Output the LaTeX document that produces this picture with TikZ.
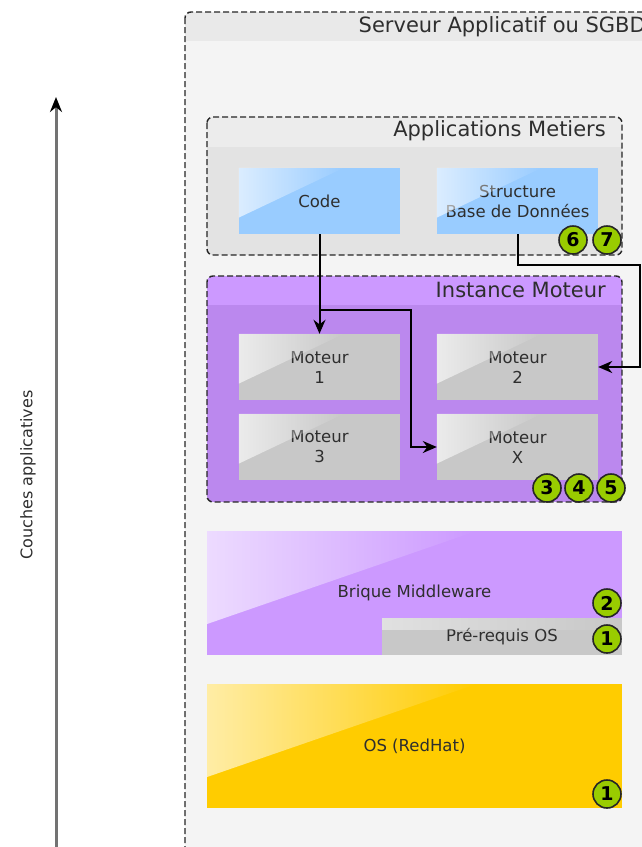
\documentclass[tikz,border=0pt]{standalone}
\usepackage{fontspec}
\setmainfont{DejaVu Sans}
\usetikzlibrary{arrows.meta,calc,fadings}

\definecolor{txtgray}{HTML}{2E2E2E}
\definecolor{srvbody}{HTML}{F4F4F4}
\definecolor{srvhead}{HTML}{E9E9E9}
\definecolor{appbody}{HTML}{E3E3E3}
\definecolor{apphead}{HTML}{ECECEC}
\definecolor{codeblue}{HTML}{99CCFF}
\definecolor{instbody}{HTML}{BB88EE}
\definecolor{insthead}{HTML}{CC99FF}
\definecolor{motgray}{HTML}{C8C8C8}
\definecolor{mwpurple}{HTML}{CC99FF}
\definecolor{osyellow}{HTML}{FFCC00}
\definecolor{badgegreen}{HTML}{99CC00}

\tikzfading[name=glare, left color=transparent!35, right color=transparent!100]

% glossy corner on a brick
\newcommand{\glare}[1]{%
  \fill[white,path fading=glare] (#1.north west) -- ($(#1.north west)!.65!(#1.north east)$)
    -- ($(#1.north west)!.75!(#1.south west)$) -- cycle;}

\tikzset{
  brick/.style={rectangle, inner sep=0pt, text=txtgray, align=center,
    font=\fontsize{16.5}{20}\selectfont},
  badge/.style={circle, fill=badgegreen, draw=black!85, line width=1.6pt,
    minimum size=28pt, inner sep=0pt, font=\bfseries\fontsize{19}{19}\selectfont},
  frame/.style={draw=black!85, line width=1.4pt, dash pattern=on 6pt off 3pt, rounded corners=6pt},
  title/.style={anchor=east, inner sep=0pt, text=txtgray, font=\fontsize{21}{24}\selectfont},
  flow/.style={draw=black, line width=2pt, -{Stealth[length=14pt,width=12pt]}},
}

\begin{document}
\begin{tikzpicture}[x=1pt,y=-1pt]
\useasboundingbox (0,0) rectangle (642,847);
\fill[white] (0,0) rectangle (642,847);

% axe
\coordinate (axbot) at (56,850);
\coordinate (axtop) at (56,97);
\draw[black!55, line width=3pt, -{Stealth[length=15pt,width=12pt,black]}] (axbot) -- (axtop);
\node[rotate=90, text=txtgray, font=\fontsize{16}{19}\selectfont] (axlabel) at (28,475) {Couches applicatives};

% serveur
\begin{scope}
  \clip[rounded corners=6pt] (185,12) rectangle (660,880);
  \fill[srvbody] (185,12) rectangle (660,880);
  \fill[srvhead] (185,12) rectangle (660,41);
\end{scope}
\draw[frame] (185,12) rectangle (660,880);
\node[title] (srvtitle) at (646,27) {Serveur Applicatif ou SGBD};

% applications metiers
\begin{scope}
  \clip[rounded corners=6pt] (207,117) rectangle (622,255);
  \fill[appbody] (207,117) rectangle (622,255);
  \fill[apphead] (207,117) rectangle (622,147);
\end{scope}
\draw[frame] (207,117) rectangle (622,255);
\node[title] (apptitle) at (606,131) {Applications Metiers};

\node[brick, fill=codeblue, minimum width=161pt, minimum height=66pt] (code) at (319.5,201) {Code};
\node[brick, fill=codeblue, minimum width=161pt, minimum height=66pt] (struct) at (517.5,201) {Structure\\Base de Données};
\glare{code}
\glare{struct}

% instance moteur
\begin{scope}
  \clip[rounded corners=6pt] (207,276) rectangle (622,502);
  \fill[instbody] (207,276) rectangle (622,502);
  \fill[insthead] (207,276) rectangle (622,305);
\end{scope}
\draw[frame] (207,276) rectangle (622,502);
\node[title] (insttitle) at (606,290) {Instance Moteur};

\node[brick, fill=motgray, minimum width=161pt, minimum height=66pt] (mot1) at (319.5,367) {Moteur\\1};
\node[brick, fill=motgray, minimum width=161pt, minimum height=66pt] (mot2) at (517.5,367) {Moteur\\2};
\node[brick, fill=motgray, minimum width=161pt, minimum height=66pt] (mot3) at (319.5,447) {Moteur\\3};
\node[brick, fill=motgray, minimum width=161pt, minimum height=66pt] (motx) at (517.5,447) {Moteur\\X};
\glare{mot1}
\glare{mot2}
\glare{mot3}
\glare{motx}

% liens
\coordinate (split) at (319.5,310);
\coordinate (xbend) at (411,447);
\coordinate (sbend) at (640,265);
\draw[flow] (code.south) -- (mot1.north);
\draw[flow] (split) -| (xbend) -- (motx.west);
\draw[flow] (struct.south) |- (sbend) |- (mot2.east);

\node[badge] (b6) at (573,240) {6};
\node[badge] (b7) at (607,240) {7};
\node[badge] (b3) at (547,488) {3};
\node[badge] (b4) at (579,488) {4};
\node[badge] (b5) at (611,488) {5};

% middleware
\node[brick, fill=mwpurple, minimum width=415pt, minimum height=124pt] (mw) at (414.5,593) {Brique Middleware};
\glare{mw}
\node[brick, fill=motgray, minimum width=240pt, minimum height=37pt] (prereq) at (502,636.5) {Pré-requis OS};
\fill[white,path fading=glare,opacity=.7] (prereq.north west) rectangle ($(prereq.north east)+(0,12)$);
\node[badge] (b2) at (607,603) {2};
\node[badge] (b1m) at (607,639) {1};

% os
\node[brick, fill=osyellow, minimum width=415pt, minimum height=124pt] (os) at (414.5,746) {OS (RedHat)};
\glare{os}
\node[badge] (b1o) at (607,794) {1};
\end{tikzpicture}
\end{document}
